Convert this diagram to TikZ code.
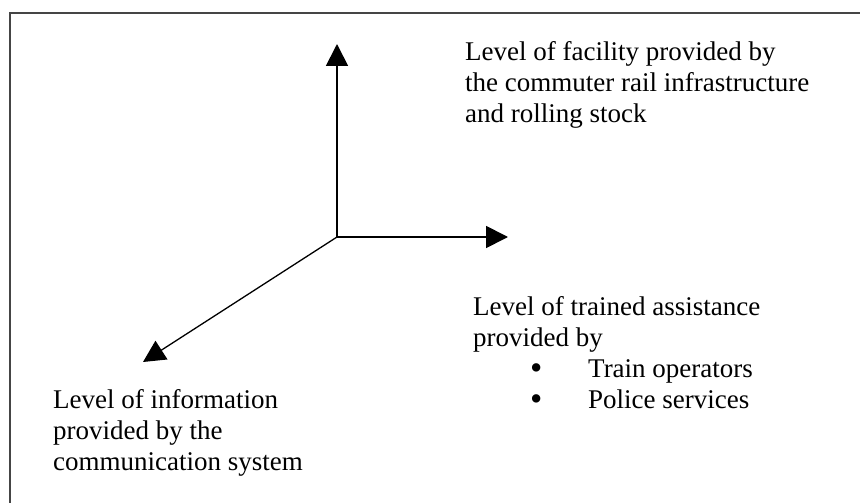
\documentclass[tikz,border=0pt]{standalone}
\usepackage{fontspec}
\setmainfont{Liberation Serif}
\usetikzlibrary{arrows.meta}
\definecolor{framegray}{rgb}{0.27,0.27,0.27}

\begin{document}
\begin{tikzpicture}[x=1pt,y=-1pt,
  lbl/.style={anchor=base west,inner sep=0pt,align=left,font=\fontsize{27}{31}\selectfont},
  axis/.style={line width=1.8pt,-{Triangle[width=22pt,length=22pt]}}]
\useasboundingbox (0,0) rectangle (860,503);
\draw[color=framegray, line width=2.2pt] (860,13) -- (10,13) -- (10,503);
\coordinate (o) at (337,237);
\coordinate (up) at (337,44);
\coordinate (right) at (508,237);
\coordinate (down) at (143,362);
\draw[axis] (o) -- (up);
\draw[axis] (o) -- (right);
\draw[axis, line width=1.3pt] (o) -- (down);
\node[lbl] (facility) at (465,122) {Level of facility provided by\\the commuter rail infrastructure\\and rolling stock};
\node[lbl] (assist) at (473,408) {Level of trained assistance\\provided by\\
  \hspace*{57pt}\makebox[58pt][l]{\raisebox{-2pt}{\scalebox{1.3}{\textbullet}}}Train operators\\
  \hspace*{57pt}\makebox[58pt][l]{\raisebox{-2pt}{\scalebox{1.3}{\textbullet}}}Police services};
\node[lbl] (info) at (53,470) {Level of information\\provided by the\\communication system};
\end{tikzpicture}
\end{document}
